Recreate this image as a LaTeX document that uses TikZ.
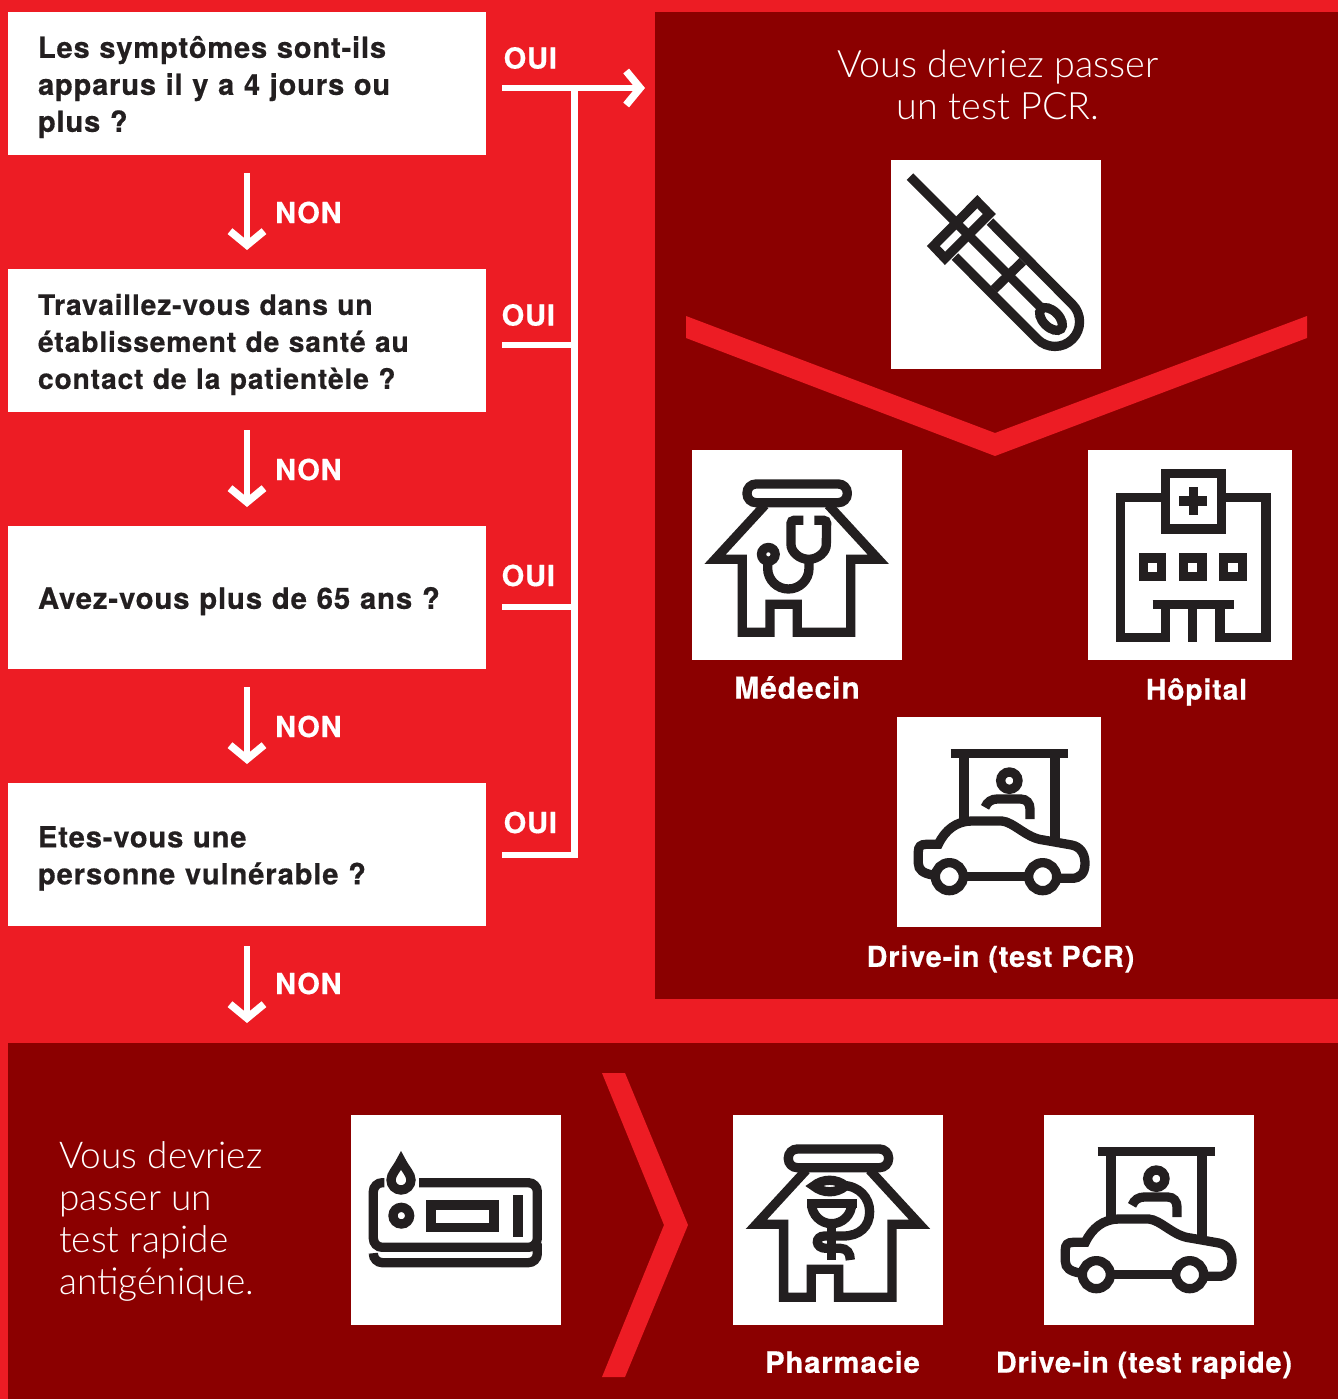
\documentclass[tikz,border=0pt]{standalone}
\usepackage{fontspec}
\setmainfont{TeX Gyre Heros}[LetterSpace=3,BoldFeatures={FakeBold=0.5}]
\newfontfamily\lightf{Lato Light}
\usetikzlibrary{arrows.meta}
\definecolor{redbg}{HTML}{ED1C24}
\definecolor{darkp}{HTML}{8B0000}
\definecolor{ink}{HTML}{231F20}
\tikzset{
  qbox/.style={fill=white,draw=none,minimum width=478pt,minimum height=143pt,text width=418pt,inner xsep=30pt,inner ysep=0pt,align=left,text=ink,font=\fontsize{29}{37}\selectfont\bfseries,execute at begin node={\rule{0pt}{29pt}}},
  lab/.style={text=white,inner sep=0pt,font=\fontsize{#1}{34}\selectfont\bfseries},
  ans/.style={text=white,inner sep=0pt,font=\fontsize{29}{34}\selectfont\bfseries},
  iconbox/.style={fill=white,draw=none,inner sep=0pt,anchor=north west},
  headt/.style={text=white,inner sep=0pt,font=\fontsize{#1}{42.3}\selectfont\lightf},
  link/.style={draw=white,line width=6.5pt},
  tipped/.style={link,-{Straight Barb[length=14pt,width=34pt,line width=7.5pt]}},
  ic/.style={draw=ink,line width=9.3pt,miter limit=10},
  zm/.style={x=0.33333pt,y=-0.33333pt}
}
\newcommand{\househull}{%
  \draw[ic,rounded corners=9pt] (186,117) rectangle (487,173);
  \draw[ic] (240,180)--(90,343)--(172,343)--(172,562)--(255,562)--(255,478)--(337,478)--(337,562)--(497,562)--(497,343)--(580,343)--(430,180);
}
\newcommand{\caricon}{%
  \draw[ic] (182,130)--(535,130);
  \draw[ic] (222,130)--(222,330);
  \draw[ic] (495,130)--(495,388);
  \draw[ic] (358,212) circle[radius=26];
  \draw[ic] (285,292) .. controls (292,275) and (305,267) .. (322,267) -- (392,267) .. controls (410,267) and (420,280) .. (420,297) -- (420,327);
  \draw[ic] (128,495) .. controls (100,490) and (85,480) .. (85,460) -- (85,425) .. controls (85,410) and (92,403) .. (108,403) -- (145,403) .. controls (165,360) and (200,333) .. (245,333) -- (335,333) .. controls (370,335) and (410,385) .. (460,390) -- (545,405) .. controls (570,410) and (585,430) .. (585,460) .. controls (585,490) and (570,505) .. (545,505) -- (510,505);
  \draw[ic] (225,500)--(410,500);
  \draw[ic] (178,500) circle[radius=42];
  \draw[ic] (458,500) circle[radius=42];
}
\begin{document}
\begin{tikzpicture}[x=1pt,y=-1pt]
\useasboundingbox (0,0) rectangle (1338,1399);
\fill[redbg] (0,0) rectangle (1338,1399);
\fill[darkp] (655,12) rectangle (1338,999);
\fill[darkp] (8,1043) rectangle (1338,1399);

% question boxes
\node[qbox] (q1) at (247,83.5) {Les symptômes sont-ils\\apparus il y a 4 jours ou\\plus ?};
\node[qbox,font=\fontsize{28.2}{37}\selectfont\bfseries] (q2) at (247,340.5) {Travaillez-vous dans un\\établissement de santé au\\contact de la patientèle ?};
\node[qbox,font=\fontsize{29.3}{37}\selectfont\bfseries] (q3) at (247,597.5) {Avez-vous plus de 65 ans ?};
\node[qbox,font=\fontsize{29.1}{37}\selectfont\bfseries] (q4) at (247,854.5) {Etes-vous une\\personne vulnérable ?};

% NON arrows
\foreach \i/\ys/\ye/\yt in {1/173/250/212.5,2/430/507/469.5,3/687/764/726.5,4/946/1023/983.5}{
  \coordinate (ns\i) at (247,\ys);
  \coordinate (ne\i) at (247,\ye);
  \draw[tipped] (ns\i) -- (ne\i);
  \node[ans,anchor=west] (non\i) at (275,\yt) {NON};
}
% OUI links
\coordinate (a1) at (502,88);
\coordinate (a2) at (645,88);
\coordinate (j1) at (574.5,88);
\coordinate (b2) at (502,345);
\coordinate (j2) at (574.5,345);
\coordinate (b3) at (502,607);
\coordinate (j3) at (574.5,607);
\coordinate (b4) at (502,855);
\coordinate (j4) at (574.5,855);
\draw[tipped] (a1) -- (a2);
\draw[link] (j1) -- (j4) -- (b4);
\draw[link] (b2) -- (j2);
\draw[link] (b3) -- (j3);
\node[ans,anchor=west] (oui1) at (503.5,58) {OUI};
\node[ans,anchor=west] (oui2) at (501.5,315) {OUI};
\node[ans,anchor=west] (oui3) at (501.5,575.5) {OUI};
\node[ans,anchor=west] (oui4) at (503.5,822.5) {OUI};

% headings
\node[headt=37.7,align=center] (h1) at (998,85) {Vous devriez passer\\un test PCR.};
\node[headt=37,align=left,anchor=west] (h2) at (59,1221.5) {Vous devriez\\passer un\\test rapide\\antigénique.};

% red chevrons
\fill[redbg] (686,316)--(995,433)--(1307,316)--(1307,338)--(995,456)--(686,338)--cycle;
\fill[redbg] (602,1073)--(625,1073)--(688,1225)--(625,1377)--(602,1377)--(664,1225)--cycle;

% icon squares
\node[iconbox,minimum width=210pt,minimum height=209pt] (s1) at (891,160) {};
\node[iconbox,minimum width=210pt,minimum height=210pt] (s2) at (692,450) {};
\node[iconbox,minimum width=204pt,minimum height=210pt] (s3) at (1088,450) {};
\node[iconbox,minimum width=204pt,minimum height=210pt] (s4) at (897,717) {};
\node[iconbox,minimum width=210pt,minimum height=210pt] (s5) at (351,1115) {};
\node[iconbox,minimum width=210pt,minimum height=210pt] (s6) at (733,1115) {};
\node[iconbox,minimum width=210pt,minimum height=210pt] (s7) at (1044,1115) {};

% swab
\begin{scope}[shift={(880,150)},zm]
  \draw[ic] (90,80)--(485,475);
  \draw[ic] (292,155)--(328,192)--(195,325)--(160,288)--cycle;
  \draw[ic] (330,215)--(577,463) arc[start angle=-45,end angle=135,radius=74] -- (225,320);
  \draw[ic] (342,418)--(428,334);
  \draw[ic,rotate around={-45:(513,507)}] (513,507) ellipse[x radius=42,y radius=24];
\end{scope}
% doctor
\begin{scope}[shift={(685,445)},zm]
  \househull
  \draw[ic,rounded corners=3pt] (355,226)--(318,226)--(318,290) arc[start angle=180,end angle=0,radius=53] --(425,226)--(388,226);
  \draw[ic] (372,343)--(372,370) arc[start angle=0,end angle=180,radius=62] --(248,340);
  \draw[ic] (250,328) circle[radius=20.5];
\end{scope}
% hospital
\begin{scope}[shift={(1080,445)},zm]
  \draw[ic] (245,158)--(122,158)--(122,577)--(257,577)--(257,480);
  \draw[ic] (437,158)--(558,158)--(558,577)--(420,577)--(420,480);
  \draw[ic] (338,480)--(338,592);
  \draw[ic] (218,478)--(462,478);
  \draw[ic] (257,85) rectangle (425,252);
  \draw[ic] (297,168)--(380,168);
  \draw[ic] (340,127)--(340,210);
  \draw[ic] (190,339) rectangle (245,395);
  \draw[ic] (311,339) rectangle (366,395);
  \draw[ic] (431,339) rectangle (487,395);
\end{scope}
% drive-in PCR
\begin{scope}[shift={(890,710)},zm]
  \caricon
\end{scope}
% rapid test
\begin{scope}[shift={(345,1110)},zm]
  \draw[ic,rounded corners=9pt] (118,218)--(85,218)--(85,412)--(577,412)--(577,218)--(222,218);
  \draw[ic,rounded corners=9pt] (85,432)--(85,458)--(577,458)--(577,400);
  \draw[ic] (168,152) .. controls (155,178) and (138,192) .. (138,210) arc[start angle=180,end angle=0,radius=30] .. controls (198,192) and (181,178) .. (168,152) -- cycle;
  \draw[ic] (169,317) circle[radius=25];
  \draw[ic] (258,285) rectangle (447,352);
  \draw[ic] (519,256)--(519,380);
\end{scope}
% pharmacy
\begin{scope}[shift={(726.3,1110)},zm]
  \househull
  \draw[ic] (243,281)--(392,281);
  \draw[ic] (256,281) arc[start angle=180,end angle=0,radius=60];
  \draw[ic] (316,340)--(316,450);
  \draw[ic] (262,228) .. controls (290,205) and (330,205) .. (358,228) .. controls (330,251) and (290,251) .. cycle;
  \draw[ic] (345,226) .. controls (400,226) and (430,265) .. (430,305) .. controls (430,350) and (400,378) .. (350,378) -- (295,378) .. controls (265,378) and (265,415) .. (300,415) -- (342,415) .. controls (362,415) and (372,430) .. (372,450);
\end{scope}
% drive-in rapid
\begin{scope}[shift={(1037,1108)},zm]
  \caricon
\end{scope}

% captions
\node[lab=30] (c1) at (797,687.5) {Médecin};
\node[lab=28.3] (c2) at (1196.5,692) {Hôpital};
\node[lab=28.8] (c3) at (1000.5,959) {Drive-in (test PCR)};
\node[lab=29.2] (c4) at (842.5,1362) {Pharmacie};
\node[lab=28.8] (c5) at (1144,1365) {Drive-in (test rapide)};
\end{tikzpicture}
\end{document}
